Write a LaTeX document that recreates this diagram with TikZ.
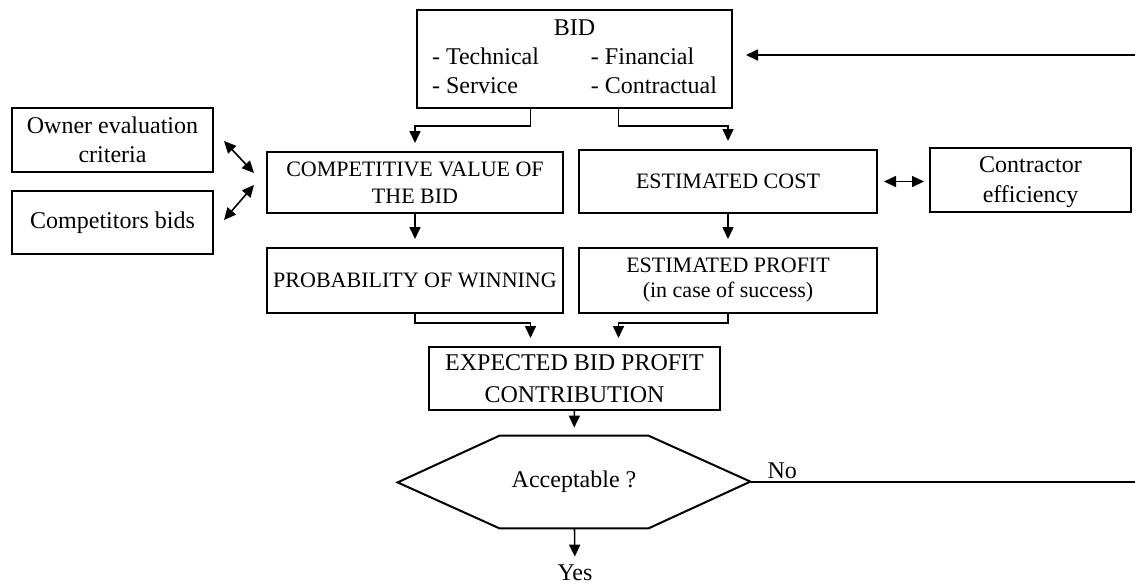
\documentclass[tikz,border=0pt]{standalone}
\usepackage{fontspec}
\setmainfont{Liberation Serif}
\usetikzlibrary{arrows.meta}

\tikzset{
    box/.style={draw, line width=1pt, align=center, inner sep=2pt},
    txtl/.style={font=\fontsize{12}{14.5}\selectfont},
    txtm/.style={font=\fontsize{11}{13.5}\selectfont},
    conn/.style={->, line width=0.8pt, shorten >=4pt}
}

\begin{document}
\begin{tikzpicture}[x=0.5pt, y=-0.5pt, >={Triangle[length=6pt,width=5.5pt]}]
    \useasboundingbox (0,0) rectangle (1135,585);
    % boxes
    \node[box, txtl, minimum width=157.5pt, minimum height=49pt] (bid) at (574.5,59)
        {\begin{tabular}{@{}l@{\hspace{26pt}}l@{}}\multicolumn{2}{c}{BID}\\ - Technical & - Financial\\ - Service & - Contractual\end{tabular}};
    \node[box, txtl, minimum width=100.5pt, minimum height=32pt] (owner) at (112.5,140) {Owner evaluation\\criteria};
    \node[box, txtl, minimum width=100.5pt, minimum height=31.5pt] (rivals) at (112.5,222.5) {Competitors bids};
    \node[box, txtm, minimum width=148pt, minimum height=30.5pt] (value) at (415,182.5) {COMPETITIVE VALUE OF\\THE BID};
    \node[box, txtm, minimum width=149pt, minimum height=31.5pt] (cost) at (728,181.5) {ESTIMATED COST};
    \node[box, font=\fontsize{12}{15}\selectfont, minimum width=100.5pt, minimum height=32pt,
        text depth=0pt] (effic) at (1030.5,180) {Contractor\\efficiency};
    \node[box, txtm, minimum width=148pt, minimum height=32.5pt] (prob) at (415,280.5) {PROBABILITY OF WINNING};
    \node[box, font=\fontsize{11}{12.5}\selectfont, minimum width=149pt, minimum height=32.5pt] (profit) at (728,280.5) {ESTIMATED PROFIT\\(in case of success)};
    \node[box, font=\fontsize{12}{16}\selectfont, minimum width=145.5pt, minimum height=31.5pt] (expect) at (574.5,378.5) {EXPECTED BID PROFIT\\CONTRIBUTION};
    % decision
    \node[txtl, minimum width=74pt, minimum height=46pt, inner sep=0pt] (accept) at (574,482) {Acceptable ?};
    \draw[line width=1pt] (accept.north west) -- (accept.north east) -- ++(102,46) -- (accept.south east)
        -- (accept.south west) -- ++(-102,-46) -- cycle;
    \coordinate (acceptR) at ([xshift=51pt]accept.east);
    \node[txtl, inner sep=1pt] (yes) at (575,573) {Yes};
    \coordinate (noEnd) at (1135,482);
    \coordinate (back) at (1135,55);
    % connectors
    \draw[conn] ([xshift=-22pt]bid.south) -- ++(0,17) -| (value.north);
    \draw[conn] ([xshift=22pt]bid.south) -- ++(0,17) -| (cost.north);
    \draw[conn] (value) -- (prob);
    \draw[conn] (cost) -- (profit);
    \draw[conn] (prob.south) -- ++(0,9) -| ([xshift=-22pt]expect.north);
    \draw[conn] (profit.south) -- ++(0,9) -| ([xshift=22pt]expect.north);
    \draw[conn] (expect) -- (accept);
    \draw[conn, shorten >=3pt] (accept) -- (yes);
    \draw[conn, <->, shorten >=0pt] ([xshift=5pt,yshift=-0.5pt]owner.east) -- ([xshift=-6pt,yshift=4.75pt]value.west);
    \draw[conn, <->, shorten >=0pt] ([xshift=5pt,yshift=1.25pt]rivals.east) -- ([xshift=-6pt,yshift=-1.25pt]value.west);
    \draw[conn, <->, shorten <=3pt, shorten >=2.5pt] (cost.east) -- (cost.east -| effic.west);
    \draw[line width=0.8pt] (acceptR) -- node[pos=0.083, above, txtl, inner sep=1pt] (no) {No} (noEnd);
    \draw[conn, shorten >=6.5pt] (back) -- (bid.east |- back);
\end{tikzpicture}
\end{document}
